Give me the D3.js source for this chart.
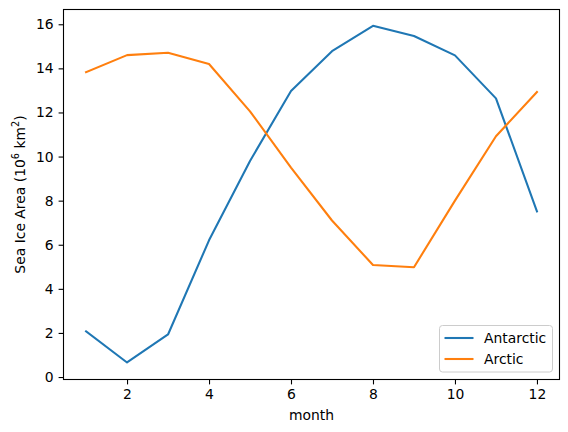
<!DOCTYPE html>
<html><head><meta charset="utf-8">
<script src="https://cdn.jsdelivr.net/npm/d3@7"></script>
<style>body{margin:0;background:#fff}svg{display:block}text{font-family:"DejaVu Sans",sans-serif;fill:#000}</style>
</head><body>
<script>
const months = [1,2,3,4,5,6,7,8,9,10,11,12];
const antarctic = [2.07,0.66,1.93,6.2,9.8,12.97,14.78,15.93,15.47,14.59,12.64,7.51];
const arctic = [13.83,14.6,14.71,14.2,12.05,9.5,7.1,5.08,4.98,8.0,10.92,12.93];
const xTicks = [2,4,6,8,10,12];
const yTicks = [0,2,4,6,8,10,12,14,16];
const seriesNames = ["Antarctic","Arctic"];
const colors = ["#1f77b4","#ff7f0e"];

const W=568,H=432;
const L=63.5,R=559.5,T=9.5,B=379.5;
const fs=13.9;
const svg=d3.select("body").append("svg").attr("width",W).attr("height",H);
const x=d3.scaleLinear().domain([0.45,12.55]).range([L,R]);
const y=d3.scaleLinear().domain([-0.112,16.67]).range([B,T]);

const line=d3.line().x((d,i)=>x(months[i])).y(d=>y(d));
[antarctic,arctic].forEach((s,k)=>{
  svg.append("path").attr("d",line(s)).attr("fill","none").attr("stroke",colors[k])
    .attr("stroke-width",2.08).attr("stroke-linejoin","round").attr("stroke-linecap","square");
});

const xa=svg.append("g").attr("transform",`translate(0,${B})`)
  .call(d3.axisBottom(x).tickValues(xTicks).tickSize(4.9).tickPadding(4.9).tickFormat(d3.format("d")));
const ya=svg.append("g").attr("transform",`translate(${L},0)`)
  .call(d3.axisLeft(y).tickValues(yTicks).tickSize(4.9).tickPadding(4.9).tickFormat(d3.format("d")));
[xa,ya].forEach(g=>{
  g.select(".domain").remove();
  g.selectAll("line").attr("stroke","#000").attr("stroke-width",1.1);
  g.selectAll("text").attr("font-size",fs).attr("font-family","DejaVu Sans").attr("fill","#000");
});
svg.append("rect").attr("x",L).attr("y",T).attr("width",R-L).attr("height",B-T)
  .attr("fill","none").attr("stroke","#000").attr("stroke-width",1.1);

svg.append("text").attr("x",(L+R)/2).attr("y",420).attr("text-anchor","middle").attr("font-size",fs).text("month");
const yl=svg.append("text").attr("transform",`translate(25,${(T+B)/2}) rotate(-90)`).attr("text-anchor","middle").attr("font-size",fs);
yl.append("tspan").text("Sea Ice Area (10");
yl.append("tspan").attr("font-size",fs*0.7).attr("dy",-6).text("6");
yl.append("tspan").attr("dy",6).text(" km");
yl.append("tspan").attr("font-size",fs*0.7).attr("dy",-6).text("2");
yl.append("tspan").attr("dy",6).text(")");

const lg=svg.append("g");
lg.append("rect").attr("x",439.5).attr("y",325.5).attr("width",113).attr("height",46.5).attr("rx",3)
  .attr("fill","#fff").attr("fill-opacity",0.8).attr("stroke","#cccccc").attr("stroke-width",1);
seriesNames.forEach((n,i)=>{
  const yy=338+i*21;
  lg.append("line").attr("x1",444.5).attr("x2",473.5).attr("y1",yy).attr("y2",yy).attr("stroke",colors[i]).attr("stroke-width",2.08);
  lg.append("text").attr("x",484).attr("y",yy+5).attr("font-size",fs).text(n);
});
</script>
</body></html>
